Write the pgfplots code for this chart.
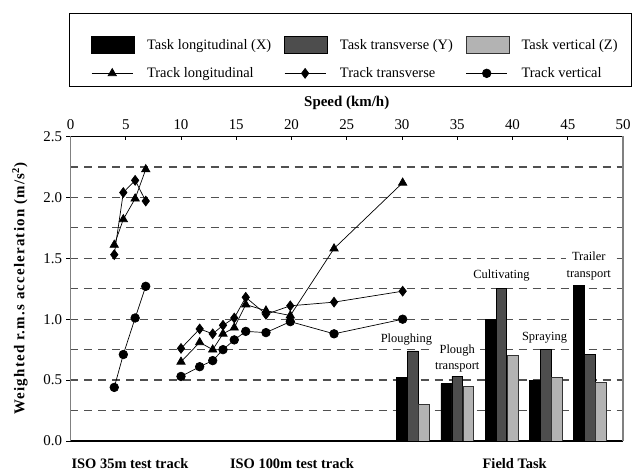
\documentclass[border=0pt]{standalone}
\usepackage{pgfplots}
\pgfplotsset{compat=1.18}
\usepackage{fontspec}
\setmainfont{Liberation Serif}
\definecolor{barmid}{HTML}{4D4D4D}
\definecolor{barlight}{HTML}{B3B3B3}
\definecolor{gridc}{HTML}{505050}
\definecolor{axgray}{HTML}{808080}
\pgfplotsset{
  barlegend/.style={legend image code/.code={%
    \draw[##1,line width=0.6bp] (0bp,-8.5bp) rectangle (43bp,8.5bp);
    \path (-11bp,-9bp) (52bp,25bp);}},
  linelegend/.style={legend image code/.code={%
    \draw[mark repeat=2,mark phase=2,##1] plot coordinates {(0bp,0bp) (20.5bp,0bp) (41bp,0bp)};
    \path (-11bp,0bp) (52bp,0bp);}},
}
\begin{document}
\begin{tikzpicture}
\path[use as bounding box] (-70.5bp,-32bp) rectangle (561.5bp,441bp);
\begin{axis}[
  scale only axis, width=552.5bp, height=304.5bp,
  at={(0,0)}, anchor=south west,
  clip mode=individual,
  xmin=0, xmax=50, ymin=0, ymax=2.5,
  xtick={0,5,...,50}, xtick pos=right, xticklabel pos=right,
  ytick={0,0.5,...,2.5}, ytick pos=left,
  minor ytick={0.25,0.75,...,2.25},
  xtick align=inside, ytick align=outside,
  major tick length=4bp, minor tick length=0pt,
  tick style={black, line width=0.8bp},
  ymajorgrids, yminorgrids,
  grid style={gridc, line width=1.3bp, dash pattern=on 8bp off 6bp},
  minor grid style={gridc, line width=1.3bp, dash pattern=on 8bp off 6bp},
  separate axis lines,
  x axis line style={black, line width=1.2bp},
  y axis line style={axgray, line width=1.2bp},
  /pgf/number format/assume math mode=true,
  ticklabel style={font=\fontsize{15}{18}\selectfont},
  xticklabel style={yshift=3.5bp},
  yticklabel style={xshift=-1bp, /pgf/number format/.cd, fixed, fixed zerofill, precision=1},
  xlabel={Speed (km/h)},
  xlabel style={at={(axis description cs:0.5,1.110)}, anchor=center, font=\bfseries\fontsize{15}{18}\selectfont},
  ylabel={Weighted r.m.s acceleration (m/s\textsuperscript{2})},
  ylabel style={at={(axis description cs:-0.0914,0.5)}, anchor=center, rotate=0, font=\bfseries\fontsize{15}{18}\selectfont\addfontfeatures{LetterSpace=8}},
  legend columns=3, legend cell align=left,
  legend style={at={(axis description cs:0,1)}, anchor=south west, xshift=-1.5bp, yshift=49.5bp,
    draw=black, line width=0.8bp, inner xsep=11bp, inner ysep=6.5bp, row sep=12.5bp,
    font=\fontsize{14.5}{17}\selectfont, nodes={inner xsep=3bp, inner ysep=1bp},
    /tikz/every even column/.append style={column sep=-1bp}},
  unbounded coords=jump,
]
% Field task bars
\addplot[ybar, bar width=0.96, bar shift=0pt, fill=black, draw=black, line width=0.6bp, barlegend]
  coordinates {(30,0.52) (34,0.47) (38,1.00) (42,0.50) (46,1.28)};
\addlegendentry{Task longitudinal (X)}
\addplot[ybar, bar width=0.96, bar shift=0pt, fill=barmid, draw=black, line width=0.6bp, barlegend]
  coordinates {(31,0.74) (35,0.53) (39,1.25) (43,0.75) (47,0.71)};
\addlegendentry{Task transverse (Y)}
\addplot[ybar, bar width=0.96, bar shift=0pt, fill=barlight, draw=black!80, line width=0.6bp, barlegend]
  coordinates {(32,0.30) (36,0.45) (40,0.70) (44,0.52) (48,0.48)};
\addlegendentry{Task vertical (Z)}
% Track series
\addplot[black, line width=0.7bp, mark=triangle*, mark size=4.8bp, mark options={solid, fill=black}, linelegend]
  coordinates {(3.96,1.61) (4.78,1.82) (5.85,1.99) (6.81,2.23) (8,nan)
    (10.0,0.65) (11.69,0.81) (12.87,0.75) (13.80,0.88) (14.82,0.93) (15.86,1.12) (17.69,1.07) (19.89,1.03) (23.85,1.58) (30.06,2.12)};
\addlegendentry{Track longitudinal}
\addplot[black, line width=0.7bp, mark=diamond*, mark size=4.9bp, mark options={solid, fill=black}, linelegend]
  coordinates {(3.96,1.53) (4.78,2.04) (5.85,2.14) (6.81,1.97) (8,nan)
    (10.0,0.76) (11.69,0.92) (12.87,0.88) (13.80,0.95) (14.82,1.01) (15.86,1.18) (17.69,1.04) (19.89,1.11) (23.85,1.14) (30.06,1.23)};
\addlegendentry{Track transverse}
\addplot[black, line width=0.7bp, mark=*, mark size=4.3bp, mark options={solid, fill=black}, linelegend]
  coordinates {(3.96,0.44) (4.78,0.71) (5.85,1.01) (6.81,1.27) (8,nan)
    (10.0,0.53) (11.69,0.61) (12.87,0.66) (13.80,0.75) (14.82,0.83) (15.86,0.90) (17.69,0.89) (19.89,0.98) (23.85,0.88) (30.06,1.00)};
\addlegendentry{Track vertical}
% task labels
\node[font=\fontsize{12.5}{16.5}\selectfont, fill=white, inner sep=1bp] at (axis cs:30.4,0.83) {Ploughing};
\node[font=\fontsize{12.5}{16.5}\selectfont, fill=white, inner sep=1bp, align=center] at (axis cs:35.0,0.678) {Plough\\transport};
\node[font=\fontsize{12.5}{16.5}\selectfont, fill=white, inner sep=1bp] at (axis cs:39.0,1.36) {Cultivating};
\node[font=\fontsize{12.5}{16.5}\selectfont, fill=white, inner sep=1bp] at (axis cs:42.9,0.845) {Spraying};
\node[font=\fontsize{12.5}{16.5}\selectfont, fill=white, inner sep=1bp, align=center] at (axis cs:46.9,1.436) {Trailer\\transport};
% group labels below the axis
\node[font=\bfseries\fontsize{14.5}{17}\selectfont, yshift=-23bp] at (axis cs:5.38,0) {ISO 35m test track};
\node[font=\bfseries\fontsize{14.5}{17}\selectfont, yshift=-23bp] at (axis cs:20.05,0) {ISO 100m test track};
\node[font=\bfseries\fontsize{14.5}{17}\selectfont, yshift=-23bp] at (axis cs:40.2,0) {Field Task};
\end{axis}
\end{tikzpicture}
\end{document}
